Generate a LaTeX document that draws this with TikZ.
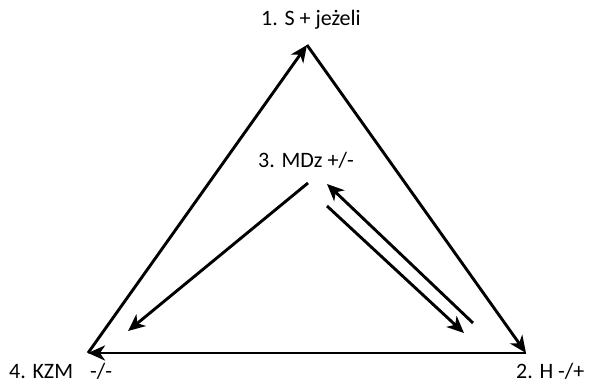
\documentclass[tikz,border=0pt]{standalone}
\usepackage{fontspec}
\setmainfont{Carlito}
\usetikzlibrary{arrows.meta}
\begin{document}
\begin{tikzpicture}[x=1pt,y=-1pt,
  lbl/.style={font=\fontsize{22}{26}\selectfont, inner sep=0pt},
  conn/.style={line width=2.9pt, -{Stealth[length=17pt,width=15pt,inset=5pt]}}]
\useasboundingbox (0,0) rectangle (590,383);
\node[lbl] (n1) at (311,20) {1. S + jeżeli};
\node[lbl, anchor=west] (n2) at (516,371) {2. H -/+};
\node[lbl] (n3) at (306,160) {3. MDz +/-};
\node[lbl, anchor=west] (n4) at (9,371) {4. KZM\hspace{17pt}-/-};
\coordinate (top) at (307,45);
\coordinate (bl) at (88,353);
\coordinate (br) at (526,353);
\coordinate (a1) at (308,183);
\coordinate (a2) at (128,331);
\coordinate (b1) at (473,323);
\coordinate (b2) at (327,184);
\coordinate (c1) at (327,206);
\coordinate (c2) at (464,333);
\draw[conn] (bl) -- (top);
\draw[conn] (top) -- (br);
\draw[conn] (br) -- (bl);
\draw[conn] (a1) -- (a2);
\draw[conn] (b1) -- (b2);
\draw[conn] (c1) -- (c2);
\end{tikzpicture}
\end{document}
